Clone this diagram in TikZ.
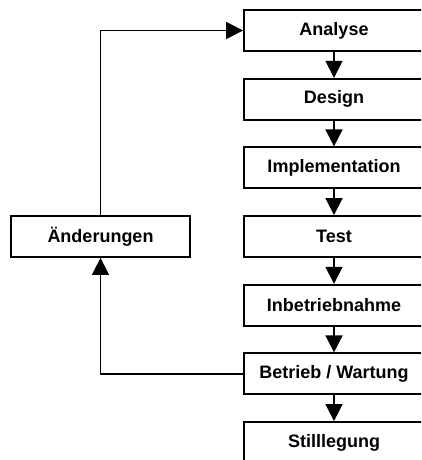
\documentclass[tikz,border=0pt]{standalone}
\usepackage{fontspec}
\setmainfont{Liberation Sans}
\usetikzlibrary{arrows.meta}
\tikzset{
  phase/.style={draw,line width=1.8pt,minimum width=180pt,minimum height=41pt,inner sep=0pt,font=\fontsize{18}{21}\selectfont\bfseries},
  flow/.style={line width=1.6pt,-{Triangle[length=17pt,width=17pt]}}
}
\begin{document}
\begin{tikzpicture}[x=1pt,y=-1pt]
    \clip (0,0) rectangle (421,460);
    \node[phase] (A) at (334,30.5) {Analyse};
    \node[phase] (D) at (334,99.2) {Design};
    \node[phase] (I) at (334,167.8) {Implementation};
    \node[phase] (T) at (334,236.5) {Test};
    \node[phase] (E) at (334,305.2) {Inbetriebnahme};
    \node[phase] (B) at (334,373.8) {Betrieb / Wartung};
    \node[phase] (S) at (334,442.5) {Stilllegung};
    \node[phase,minimum width=179pt] (C) at (100.5,236.5) {Änderungen};
    \draw[flow] (A)--(D);
    \draw[flow] (D)--(I);
    \draw[flow] (I)--(T);
    \draw[flow] (T)--(E);
    \draw[flow] (E)--(B);
    \draw[flow] (B)--(S);
    \draw[flow] (B.west)-|(C.south);
    \draw[flow] (C.north)|-(A.west);
\end{tikzpicture}
\end{document}
